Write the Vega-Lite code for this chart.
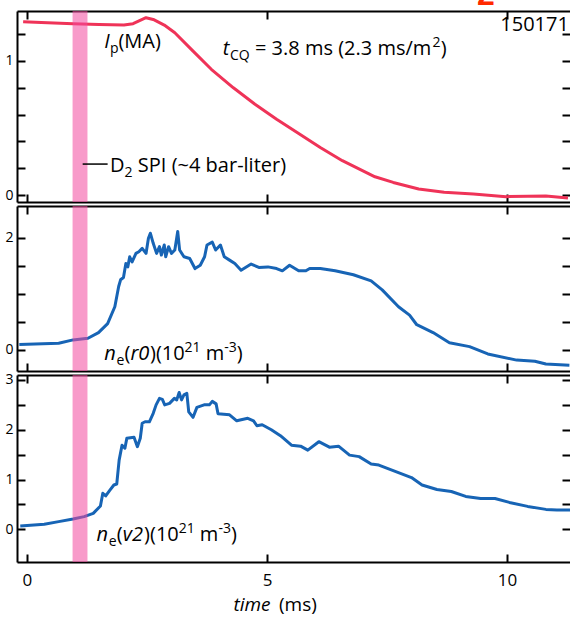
{
  "$schema": "https://vega.github.io/schema/vega-lite/v6.json",
  "padding": {"left": 4, "top": -22, "right": 0, "bottom": 2},
  "bounds": "flush",
  "spacing": 4,
  "config": {
    "view": {"stroke": null},
    "font": "Open Sans",
    "axis": {"domainColor": "black", "domainWidth": 2, "tickColor": "black", "tickWidth": 2, "tickSize": -8, "grid": false, "labelColor": "black", "labelFont": "Open Sans", "labelFontSize": 14},
    "text": {"font": "Open Sans", "fontSize": 20, "color": "black", "align": "left", "baseline": "alphabetic"}
  },
  "datasets": {
    "ip": [
      {"t": -0.08, "v": 1.293}, {"t": 0.3, "v": 1.287}, {"t": 0.96, "v": 1.278}, {"t": 1.5, "v": 1.272}, {"t": 2.02, "v": 1.268},
      {"t": 2.21, "v": 1.278}, {"t": 2.48, "v": 1.323}, {"t": 2.63, "v": 1.31}, {"t": 2.86, "v": 1.268}, {"t": 3.08, "v": 1.211},
      {"t": 3.46, "v": 1.074}, {"t": 3.84, "v": 0.938}, {"t": 4.3, "v": 0.8}, {"t": 4.75, "v": 0.677}, {"t": 5.2, "v": 0.566},
      {"t": 5.66, "v": 0.459}, {"t": 6.11, "v": 0.355}, {"t": 6.57, "v": 0.256}, {"t": 7.02, "v": 0.176}, {"t": 7.25, "v": 0.136},
      {"t": 7.63, "v": 0.094}, {"t": 8.16, "v": 0.045}, {"t": 8.69, "v": 0.02}, {"t": 9.3, "v": 0.007}, {"t": 9.98, "v": -0.012},
      {"t": 10.43, "v": -0.01}, {"t": 10.81, "v": -0.007}, {"t": 11.27, "v": -0.022}
    ],
    "ner0": [
      {"t": -0.16, "v": 0.1}, {"t": 0.66, "v": 0.12}, {"t": 0.96, "v": 0.18}, {"t": 1.27, "v": 0.21}, {"t": 1.49, "v": 0.31},
      {"t": 1.68, "v": 0.47}, {"t": 1.83, "v": 0.77}, {"t": 1.91, "v": 1.13}, {"t": 1.95, "v": 1.25}, {"t": 2.01, "v": 1.29},
      {"t": 2.06, "v": 1.54}, {"t": 2.1, "v": 1.48}, {"t": 2.14, "v": 1.66}, {"t": 2.19, "v": 1.57}, {"t": 2.27, "v": 1.72},
      {"t": 2.33, "v": 1.75}, {"t": 2.4, "v": 1.81}, {"t": 2.48, "v": 1.72}, {"t": 2.53, "v": 1.99}, {"t": 2.57, "v": 2.08},
      {"t": 2.63, "v": 1.9}, {"t": 2.7, "v": 1.72}, {"t": 2.76, "v": 1.84}, {"t": 2.8, "v": 1.69}, {"t": 2.86, "v": 1.87},
      {"t": 2.89, "v": 1.66}, {"t": 2.95, "v": 1.84}, {"t": 3.01, "v": 1.72}, {"t": 3.08, "v": 1.78}, {"t": 3.14, "v": 2.11},
      {"t": 3.18, "v": 1.78}, {"t": 3.27, "v": 1.66}, {"t": 3.39, "v": 1.63}, {"t": 3.5, "v": 1.45}, {"t": 3.61, "v": 1.51},
      {"t": 3.7, "v": 1.66}, {"t": 3.75, "v": 1.87}, {"t": 3.86, "v": 1.92}, {"t": 3.93, "v": 1.78}, {"t": 4.03, "v": 1.87},
      {"t": 4.11, "v": 1.66}, {"t": 4.22, "v": 1.6}, {"t": 4.33, "v": 1.54}, {"t": 4.46, "v": 1.42}, {"t": 4.67, "v": 1.53},
      {"t": 4.83, "v": 1.47}, {"t": 5.02, "v": 1.48}, {"t": 5.2, "v": 1.45}, {"t": 5.32, "v": 1.41}, {"t": 5.47, "v": 1.51},
      {"t": 5.66, "v": 1.41}, {"t": 5.81, "v": 1.41}, {"t": 5.89, "v": 1.45}, {"t": 6.11, "v": 1.45}, {"t": 6.42, "v": 1.41},
      {"t": 6.8, "v": 1.34}, {"t": 7.17, "v": 1.23}, {"t": 7.4, "v": 1.07}, {"t": 7.74, "v": 0.77}, {"t": 7.97, "v": 0.62},
      {"t": 8.12, "v": 0.45}, {"t": 8.46, "v": 0.31}, {"t": 8.8, "v": 0.13}, {"t": 9.22, "v": 0.06}, {"t": 9.6, "v": -0.07},
      {"t": 10.2, "v": -0.18}, {"t": 10.58, "v": -0.2}, {"t": 10.81, "v": -0.25}, {"t": 11.3, "v": -0.27}
    ],
    "nev2": [
      {"t": -0.14, "v": 0.067}, {"t": 0.36, "v": 0.1}, {"t": 0.66, "v": 0.154}, {"t": 0.96, "v": 0.208}, {"t": 1.19, "v": 0.255},
      {"t": 1.38, "v": 0.32}, {"t": 1.53, "v": 0.469}, {"t": 1.58, "v": 0.723}, {"t": 1.64, "v": 0.67}, {"t": 1.72, "v": 0.777},
      {"t": 1.81, "v": 0.89}, {"t": 1.87, "v": 0.91}, {"t": 1.92, "v": 1.39}, {"t": 1.98, "v": 1.69}, {"t": 2.04, "v": 1.63},
      {"t": 2.08, "v": 1.83}, {"t": 2.23, "v": 1.85}, {"t": 2.3, "v": 1.66}, {"t": 2.36, "v": 1.83}, {"t": 2.4, "v": 2.13},
      {"t": 2.46, "v": 2.16}, {"t": 2.55, "v": 2.16}, {"t": 2.63, "v": 2.33}, {"t": 2.69, "v": 2.5}, {"t": 2.76, "v": 2.63},
      {"t": 2.82, "v": 2.61}, {"t": 2.87, "v": 2.5}, {"t": 2.97, "v": 2.53}, {"t": 3.07, "v": 2.63}, {"t": 3.12, "v": 2.6},
      {"t": 3.17, "v": 2.75}, {"t": 3.22, "v": 2.6}, {"t": 3.27, "v": 2.7}, {"t": 3.33, "v": 2.73}, {"t": 3.37, "v": 2.36},
      {"t": 3.46, "v": 2.25}, {"t": 3.54, "v": 2.45}, {"t": 3.69, "v": 2.5}, {"t": 3.8, "v": 2.5}, {"t": 3.86, "v": 2.57},
      {"t": 3.94, "v": 2.52}, {"t": 3.98, "v": 2.32}, {"t": 4.22, "v": 2.3}, {"t": 4.37, "v": 2.18}, {"t": 4.6, "v": 2.23},
      {"t": 4.72, "v": 2.18}, {"t": 4.79, "v": 2.08}, {"t": 4.9, "v": 2.1}, {"t": 5.09, "v": 2.0}, {"t": 5.28, "v": 1.88},
      {"t": 5.51, "v": 1.69}, {"t": 5.7, "v": 1.67}, {"t": 5.85, "v": 1.59}, {"t": 6.08, "v": 1.76}, {"t": 6.3, "v": 1.65},
      {"t": 6.49, "v": 1.67}, {"t": 6.72, "v": 1.49}, {"t": 6.92, "v": 1.46}, {"t": 7.17, "v": 1.31}, {"t": 7.33, "v": 1.29},
      {"t": 7.63, "v": 1.18}, {"t": 8.01, "v": 1.04}, {"t": 8.23, "v": 0.89}, {"t": 8.54, "v": 0.8}, {"t": 8.84, "v": 0.76},
      {"t": 9.14, "v": 0.66}, {"t": 9.45, "v": 0.62}, {"t": 9.75, "v": 0.62}, {"t": 10.05, "v": 0.54}, {"t": 10.43, "v": 0.46},
      {"t": 10.81, "v": 0.4}, {"t": 11.04, "v": 0.39}, {"t": 11.33, "v": 0.39}
    ],
    "band": [{"t": 0.95, "t2": 1.26}],
    "pointer": [{"t": 1.16, "t2": 1.68, "v": 0.231}],
    "ann1": [
      {"t": 1.61, "v": 1.095, "text": "I", "kind": "it"},
      {"t": 1.73, "v": 1.095, "text": "p", "kind": "sub"},
      {"t": 1.906, "v": 1.095, "text": "(MA)", "kind": "n"},
      {"t": 4.08, "v": 1.045, "text": "t", "kind": "it"},
      {"t": 4.227, "v": 1.045, "text": "CQ", "kind": "sub"},
      {"t": 4.75, "v": 1.045, "text": "= 3.8 ms (2.3 ms/m", "kind": "n"},
      {"t": 8.45, "v": 1.045, "text": "2", "kind": "sup"},
      {"t": 8.62, "v": 1.045, "text": ")", "kind": "n"},
      {"t": 9.86, "v": 1.226, "text": "150171", "kind": "n"},
      {"t": 1.73, "v": 0.174, "text": "D", "kind": "n"},
      {"t": 2.03, "v": 0.174, "text": "2", "kind": "sub"},
      {"t": 2.31, "v": 0.174, "text": "SPI (~4 bar-liter)", "kind": "n"},
      {"t": 9.56, "v": 1.418, "text": "2", "kind": "red"}
    ],
    "ann2": [
      {"t": 1.61, "v": -0.17, "text": "n", "kind": "it"},
      {"t": 1.867, "v": -0.17, "text": "e", "kind": "sub"},
      {"t": 2.03, "v": -0.17, "text": "(", "kind": "n"},
      {"t": 2.154, "v": -0.17, "text": "r0", "kind": "it"},
      {"t": 2.5625, "v": -0.17, "text": ")(10", "kind": "n"},
      {"t": 3.283, "v": -0.17, "text": "21", "kind": "sup"},
      {"t": 3.725, "v": -0.17, "text": "m", "kind": "n"},
      {"t": 4.11, "v": -0.17, "text": "-3", "kind": "sup"},
      {"t": 4.37, "v": -0.17, "text": ")", "kind": "n"}
    ],
    "ann3": [
      {"t": 1.45, "v": -0.23, "text": "n", "kind": "it"},
      {"t": 1.706, "v": -0.23, "text": "e", "kind": "sub"},
      {"t": 1.871, "v": -0.23, "text": "(", "kind": "n"},
      {"t": 1.994, "v": -0.23, "text": "v2", "kind": "it"},
      {"t": 2.44, "v": -0.23, "text": ")(10", "kind": "n"},
      {"t": 3.16, "v": -0.23, "text": "21", "kind": "sup"},
      {"t": 3.6, "v": -0.23, "text": "m", "kind": "n"},
      {"t": 3.99, "v": -0.23, "text": "-3", "kind": "sup"},
      {"t": 4.25, "v": -0.23, "text": ")", "kind": "n"},
      {"t": 4.3, "v": -1.64, "text": "time", "kind": "tit"},
      {"t": 5.25, "v": -1.64, "text": "(ms)", "kind": "tn"}
    ]
  },
  "vconcat": [
    {
      "width": 553, "height": 191,
      "resolve": {"axis": {"x": "independent", "y": "independent"}},
      "layer": [
        {
          "data": {"name": "ip"},
          "mark": {"type": "line", "color": "#ef3358", "strokeWidth": 3, "strokeJoin": "round"},
          "encoding": {
            "x": {"field": "t", "type": "quantitative", "scale": {"domain": [-0.208, 11.3125], "nice": false, "zero": false}, "axis": {"orient": "bottom", "values": [0, 5, 10], "labels": false, "title": null}},
            "y": {"field": "v", "type": "quantitative", "scale": {"domain": [-0.052, 1.373], "nice": false, "zero": false}, "axis": {"orient": "left", "values": [0, 0.2, 0.4, 0.6, 0.8, 1, 1.2], "labelExpr": "datum.value == 0 || datum.value == 1 ? format(datum.value, 'd') : ''", "labelPadding": 12, "title": null}}
          }
        },
        {
          "data": {"name": "band"},
          "mark": {"type": "rect", "color": "#f2489e", "opacity": 0.55},
          "encoding": {
            "x": {"field": "t", "type": "quantitative", "scale": {"domain": [-0.208, 11.3125], "nice": false, "zero": false}, "axis": null},
            "x2": {"field": "t2"}
          }
        },
        {
          "data": {"name": "pointer"},
          "mark": {"type": "rule", "color": "black", "strokeWidth": 1.5},
          "encoding": {
            "x": {"field": "t", "type": "quantitative", "scale": {"domain": [-0.208, 11.3125], "nice": false, "zero": false}, "axis": {"orient": "top", "values": [0, 5, 10], "labels": false, "title": null}},
            "x2": {"field": "t2"},
            "y": {"field": "v", "type": "quantitative", "scale": {"domain": [-0.052, 1.373], "nice": false, "zero": false}, "axis": {"orient": "right", "values": [0, 0.2, 0.4, 0.6, 0.8, 1, 1.2], "labels": false, "domain": false, "title": null}}
          }
        },
        {
          "data": {"name": "ann1"},
          "transform": [{"filter": "datum.kind == 'n'"}],
          "mark": {"type": "text"},
          "encoding": {
            "x": {"field": "t", "type": "quantitative", "scale": {"domain": [-0.208, 11.3125], "nice": false, "zero": false}, "axis": null},
            "y": {"field": "v", "type": "quantitative", "scale": {"domain": [-0.052, 1.373], "nice": false, "zero": false}, "axis": null},
            "text": {"field": "text"}
          }
        },
        {
          "data": {"name": "ann1"},
          "transform": [{"filter": "datum.kind == 'it'"}],
          "mark": {"type": "text", "fontStyle": "italic"},
          "encoding": {
            "x": {"field": "t", "type": "quantitative", "scale": {"domain": [-0.208, 11.3125], "nice": false, "zero": false}, "axis": null},
            "y": {"field": "v", "type": "quantitative", "scale": {"domain": [-0.052, 1.373], "nice": false, "zero": false}, "axis": null},
            "text": {"field": "text"}
          }
        },
        {
          "data": {"name": "ann1"},
          "transform": [{"filter": "datum.kind == 'sub'"}],
          "mark": {"type": "text", "fontSize": 14, "dy": 5},
          "encoding": {
            "x": {"field": "t", "type": "quantitative", "scale": {"domain": [-0.208, 11.3125], "nice": false, "zero": false}, "axis": null},
            "y": {"field": "v", "type": "quantitative", "scale": {"domain": [-0.052, 1.373], "nice": false, "zero": false}, "axis": null},
            "text": {"field": "text"}
          }
        },
        {
          "data": {"name": "ann1"},
          "transform": [{"filter": "datum.kind == 'sup'"}],
          "mark": {"type": "text", "fontSize": 14, "dy": -8},
          "encoding": {
            "x": {"field": "t", "type": "quantitative", "scale": {"domain": [-0.208, 11.3125], "nice": false, "zero": false}, "axis": null},
            "y": {"field": "v", "type": "quantitative", "scale": {"domain": [-0.052, 1.373], "nice": false, "zero": false}, "axis": null},
            "text": {"field": "text"}
          }
        },
        {
          "data": {"name": "ann1"},
          "transform": [{"filter": "datum.kind == 'red'"}],
          "mark": {"type": "text", "fontSize": 32, "font": "Liberation Sans", "fontWeight": "bold", "color": "#ff2a00", "align": "center"},
          "encoding": {
            "x": {"field": "t", "type": "quantitative", "scale": {"domain": [-0.208, 11.3125], "nice": false, "zero": false}, "axis": null},
            "y": {"field": "v", "type": "quantitative", "scale": {"domain": [-0.052, 1.373], "nice": false, "zero": false}, "axis": null},
            "text": {"field": "text"}
          }
        }
      ]
    },
    {
      "width": 553, "height": 165,
      "resolve": {"axis": {"x": "independent", "y": "independent"}},
      "layer": [
        {
          "data": {"name": "ner0"},
          "mark": {"type": "line", "color": "#1764b5", "strokeWidth": 3, "strokeJoin": "round"},
          "encoding": {
            "x": {"field": "t", "type": "quantitative", "scale": {"domain": [-0.208, 11.3125], "nice": false, "zero": false}, "axis": {"orient": "bottom", "values": [0, 5, 10], "labels": false, "title": null}},
            "y": {"field": "v", "type": "quantitative", "scale": {"domain": [-0.374, 2.564], "nice": false, "zero": false}, "axis": {"orient": "left", "values": [0, 0.5, 1, 1.5, 2], "labelExpr": "datum.value == 0 || datum.value == 2 ? format(datum.value, 'd') : ''", "labelPadding": 12, "title": null}}
          }
        },
        {
          "data": {"name": "band"},
          "mark": {"type": "rect", "color": "#f2489e", "opacity": 0.55},
          "encoding": {
            "x": {"field": "t", "type": "quantitative", "scale": {"domain": [-0.208, 11.3125], "nice": false, "zero": false}, "axis": null},
            "x2": {"field": "t2"}
          }
        },
        {
          "data": {"name": "ann2"},
          "transform": [{"filter": "datum.kind == 'n'"}],
          "mark": {"type": "text"},
          "encoding": {
            "x": {"field": "t", "type": "quantitative", "scale": {"domain": [-0.208, 11.3125], "nice": false, "zero": false}, "axis": {"orient": "top", "values": [0, 5, 10], "labels": false, "title": null}},
            "y": {"field": "v", "type": "quantitative", "scale": {"domain": [-0.374, 2.564], "nice": false, "zero": false}, "axis": {"orient": "right", "values": [0, 0.5, 1, 1.5, 2], "labels": false, "domain": false, "title": null}},
            "text": {"field": "text"}
          }
        },
        {
          "data": {"name": "ann2"},
          "transform": [{"filter": "datum.kind == 'it'"}],
          "mark": {"type": "text", "fontStyle": "italic"},
          "encoding": {
            "x": {"field": "t", "type": "quantitative", "scale": {"domain": [-0.208, 11.3125], "nice": false, "zero": false}, "axis": null},
            "y": {"field": "v", "type": "quantitative", "scale": {"domain": [-0.374, 2.564], "nice": false, "zero": false}, "axis": null},
            "text": {"field": "text"}
          }
        },
        {
          "data": {"name": "ann2"},
          "transform": [{"filter": "datum.kind == 'sub'"}],
          "mark": {"type": "text", "fontSize": 14, "dy": 5},
          "encoding": {
            "x": {"field": "t", "type": "quantitative", "scale": {"domain": [-0.208, 11.3125], "nice": false, "zero": false}, "axis": null},
            "y": {"field": "v", "type": "quantitative", "scale": {"domain": [-0.374, 2.564], "nice": false, "zero": false}, "axis": null},
            "text": {"field": "text"}
          }
        },
        {
          "data": {"name": "ann2"},
          "transform": [{"filter": "datum.kind == 'sup'"}],
          "mark": {"type": "text", "fontSize": 14, "dy": -8},
          "encoding": {
            "x": {"field": "t", "type": "quantitative", "scale": {"domain": [-0.208, 11.3125], "nice": false, "zero": false}, "axis": null},
            "y": {"field": "v", "type": "quantitative", "scale": {"domain": [-0.374, 2.564], "nice": false, "zero": false}, "axis": null},
            "text": {"field": "text"}
          }
        }
      ]
    },
    {
      "width": 553, "height": 187,
      "resolve": {"axis": {"x": "independent", "y": "independent"}},
      "layer": [
        {
          "data": {"name": "nev2"},
          "mark": {"type": "line", "color": "#1764b5", "strokeWidth": 3, "strokeJoin": "round"},
          "encoding": {
            "x": {"field": "t", "type": "quantitative", "scale": {"domain": [-0.208, 11.3125], "nice": false, "zero": false}, "axis": {"orient": "bottom", "values": [0, 5, 10], "labelFontSize": 17, "labelPadding": 18, "title": null}},
            "y": {"field": "v", "type": "quantitative", "scale": {"domain": [-0.657, 3.1], "nice": false, "zero": false}, "axis": {"orient": "left", "values": [0, 0.5, 1, 1.5, 2, 2.5, 3], "labelExpr": "datum.value % 1 == 0 ? format(datum.value, 'd') : ''", "labelPadding": 12, "title": null}}
          }
        },
        {
          "data": {"name": "band"},
          "mark": {"type": "rect", "color": "#f2489e", "opacity": 0.55},
          "encoding": {
            "x": {"field": "t", "type": "quantitative", "scale": {"domain": [-0.208, 11.3125], "nice": false, "zero": false}, "axis": null},
            "x2": {"field": "t2"}
          }
        },
        {
          "data": {"name": "ann3"},
          "transform": [{"filter": "datum.kind == 'n'"}],
          "mark": {"type": "text"},
          "encoding": {
            "x": {"field": "t", "type": "quantitative", "scale": {"domain": [-0.208, 11.3125], "nice": false, "zero": false}, "axis": {"orient": "top", "values": [0, 5, 10], "labels": false, "title": null}},
            "y": {"field": "v", "type": "quantitative", "scale": {"domain": [-0.657, 3.1], "nice": false, "zero": false}, "axis": {"orient": "right", "values": [0, 0.5, 1, 1.5, 2, 2.5, 3], "labels": false, "domain": false, "title": null}},
            "text": {"field": "text"}
          }
        },
        {
          "data": {"name": "ann3"},
          "transform": [{"filter": "datum.kind == 'it'"}],
          "mark": {"type": "text", "fontStyle": "italic"},
          "encoding": {
            "x": {"field": "t", "type": "quantitative", "scale": {"domain": [-0.208, 11.3125], "nice": false, "zero": false}, "axis": null},
            "y": {"field": "v", "type": "quantitative", "scale": {"domain": [-0.657, 3.1], "nice": false, "zero": false}, "axis": null},
            "text": {"field": "text"}
          }
        },
        {
          "data": {"name": "ann3"},
          "transform": [{"filter": "datum.kind == 'sub'"}],
          "mark": {"type": "text", "fontSize": 14, "dy": 5},
          "encoding": {
            "x": {"field": "t", "type": "quantitative", "scale": {"domain": [-0.208, 11.3125], "nice": false, "zero": false}, "axis": null},
            "y": {"field": "v", "type": "quantitative", "scale": {"domain": [-0.657, 3.1], "nice": false, "zero": false}, "axis": null},
            "text": {"field": "text"}
          }
        },
        {
          "data": {"name": "ann3"},
          "transform": [{"filter": "datum.kind == 'sup'"}],
          "mark": {"type": "text", "fontSize": 14, "dy": -8},
          "encoding": {
            "x": {"field": "t", "type": "quantitative", "scale": {"domain": [-0.208, 11.3125], "nice": false, "zero": false}, "axis": null},
            "y": {"field": "v", "type": "quantitative", "scale": {"domain": [-0.657, 3.1], "nice": false, "zero": false}, "axis": null},
            "text": {"field": "text"}
          }
        },
        {
          "data": {"name": "ann3"},
          "transform": [{"filter": "datum.kind == 'tit'"}],
          "mark": {"type": "text", "fontStyle": "italic", "fontSize": 19},
          "encoding": {
            "x": {"field": "t", "type": "quantitative", "scale": {"domain": [-0.208, 11.3125], "nice": false, "zero": false}, "axis": null},
            "y": {"field": "v", "type": "quantitative", "scale": {"domain": [-0.657, 3.1], "nice": false, "zero": false}, "axis": null},
            "text": {"field": "text"}
          }
        },
        {
          "data": {"name": "ann3"},
          "transform": [{"filter": "datum.kind == 'tn'"}],
          "mark": {"type": "text", "fontSize": 19},
          "encoding": {
            "x": {"field": "t", "type": "quantitative", "scale": {"domain": [-0.208, 11.3125], "nice": false, "zero": false}, "axis": null},
            "y": {"field": "v", "type": "quantitative", "scale": {"domain": [-0.657, 3.1], "nice": false, "zero": false}, "axis": null},
            "text": {"field": "text"}
          }
        }
      ]
    }
  ]
}
